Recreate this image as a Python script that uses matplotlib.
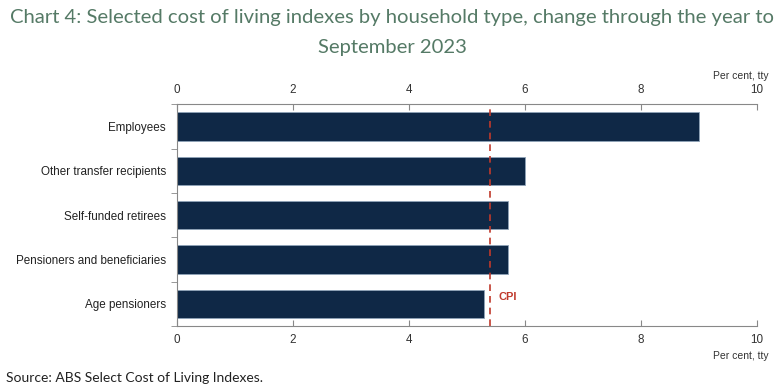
import numpy as np
import matplotlib.pyplot as plt

categories = ["Employees", "Other transfer recipients", "Self-funded retirees",
              "Pensioners and beneficiaries", "Age pensioners"]
values = [9.0, 6.0, 5.7, 5.7, 5.3]
cpi = 5.4
xticks = [0, 2, 4, 6, 8, 10]

fig = plt.figure(figsize=(7.84, 3.9), dpi=100)
ax = fig.add_axes([0.2258, 0.164, 0.7398, 0.569])

y = np.arange(len(categories))
ax.barh(y, values, height=0.64, color="#0f2846", edgecolor="#8fa3b8", linewidth=0.6)
ax.axvline(cpi, color="#c0392b", linestyle=(0, (4, 3)), linewidth=1.2)
ax.text(cpi + 0.15, y[-1] - 0.15, "CPI", color="#c0392b", fontsize=8, fontweight="bold",
        family="Liberation Sans", va="center")

ax.set_ylim(len(categories) - 0.5, -0.5)
ax.set_xlim(0, 10)
ax.set_yticks(y)
ax.set_yticklabels(categories, fontsize=8.4, family="Liberation Sans", color="#222222")
ax.set_yticks(np.arange(-0.5, len(categories), 1), minor=True)
ax.tick_params(axis="y", which="major", length=0, pad=8)
ax.tick_params(axis="y", which="minor", length=4, direction="out", color="#888888")

ax.set_xticks(xticks)
ax.set_xticklabels([str(t) for t in xticks], fontsize=8.4, family="Liberation Sans")
ax.tick_params(axis="x", which="both", top=True, labeltop=True, direction="in",
               length=4, color="#888888", labelcolor="#333333", pad=6)

for s in ["top", "bottom", "left"]:
    ax.spines[s].set_color("#888888")
ax.spines["right"].set_visible(False)

fig.text(0.98, 0.805, "Per cent, tty", ha="right", va="center", fontsize=7.5,
         family="Liberation Sans", color="#333333")
fig.text(0.98, 0.087, "Per cent, tty", ha="right", va="center", fontsize=7.5,
         family="Liberation Sans", color="#333333")

fig.text(0.5, 0.955, "Chart 4: Selected cost of living indexes by household type, change through the year to",
         ha="center", va="center", fontsize=14.6, family="Lato", color="#557a66")
fig.text(0.5, 0.877, "September 2023", ha="center", va="center", fontsize=14.6,
         family="Lato", color="#557a66")
fig.text(0.008, 0.03, "Source: ABS Select Cost of Living Indexes.", fontsize=10,
         family="Lato", color="#222222", va="center")

fig.savefig("out.png", dpi=100)
